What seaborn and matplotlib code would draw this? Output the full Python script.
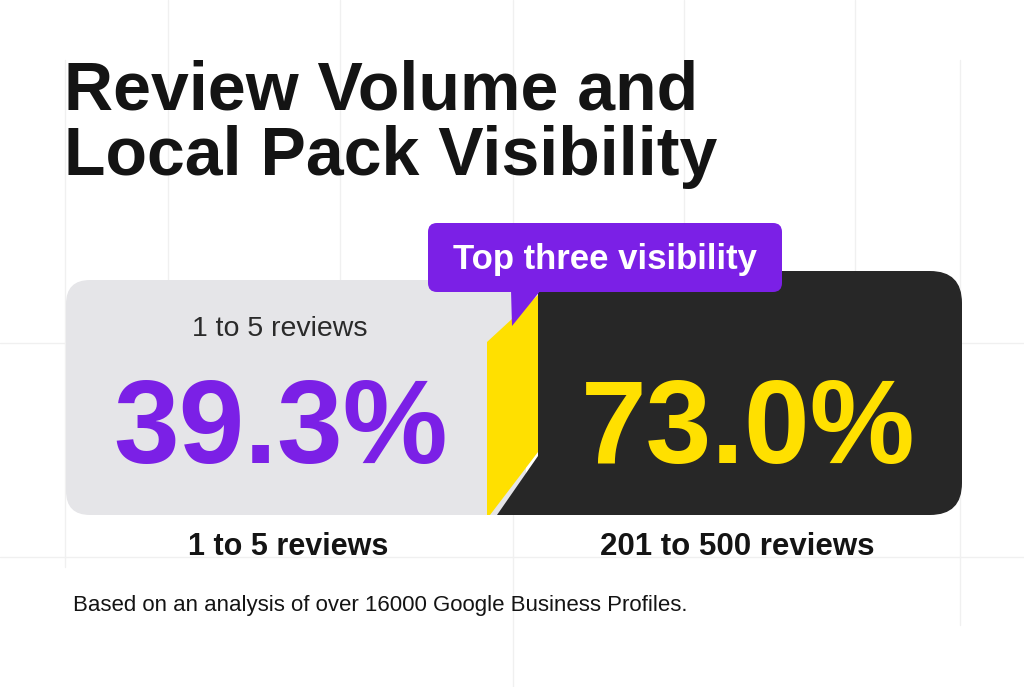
import numpy as np
import matplotlib
matplotlib.use('Agg')
import matplotlib.pyplot as plt
import seaborn as sns
from matplotlib.patches import FancyBboxPatch, Polygon

# data
title_lines = ["Review Volume and", "Local Pack Visibility"]
categories = ["1 to 5 reviews", "201 to 500 reviews"]
visibility = [39.3, 73.0]
callout = "Top three visibility"
footnote = "Based on an analysis of over 16000 Google Business Profiles."

sns.set_theme(style="white")
plt.rcParams['font.family'] = ['Liberation Sans', 'DejaVu Sans']

PURPLE = "#7B20E6"
YELLOW = "#FFE000"
DARK = "#272727"
LIGHT = "#E5E5E8"
INK = "#141414"
GRID = "#F0F0F0"

fig = plt.figure(figsize=(10.24, 6.87), dpi=100)
ax = fig.add_axes([0, 0, 1, 1])
ax.set_xlim(0, 1024)
ax.set_ylim(687, 0)
ax.axis('off')

# faint background grid (x, y from, y to)
vlines = [(65, 60, 567), (168, 0, 280), (340, 0, 280), (513, 0, 223),
          (513, 515, 687), (684, 0, 271), (855, 0, 271), (960, 60, 625)]
for gx, y0, y1 in vlines:
    ax.plot([gx, gx], [y0, y1], color=GRID, lw=1, zorder=0)
for gy in [343, 557]:
    ax.axhline(gy, color=GRID, lw=1, zorder=0)

# title
ax.text(64, 110, title_lines[0], fontsize=49, fontweight='bold', color=INK,
        va='baseline', ha='left')
ax.text(64, 175, title_lines[1], fontsize=49, fontweight='bold', color=INK,
        va='baseline', ha='left')

# light panel (left)
ax.add_patch(FancyBboxPatch((66, 280), 460, 235,
                            boxstyle="round,pad=0,rounding_size=24",
                            fc=LIGHT, ec='none', zorder=1))
# dark panel (right)
ax.add_patch(FancyBboxPatch((538, 271), 424, 244,
                            boxstyle="round,pad=0,rounding_size=32",
                            fc=DARK, ec='none', zorder=2))
ax.add_patch(Polygon([(538, 271), (600, 271), (600, 515), (497, 515),
                      (538, 456)], closed=True, fc=DARK, ec='none', zorder=2))
# yellow divider
ax.add_patch(Polygon([(487, 515), (487, 342), (538, 295), (538, 452),
                      (490, 515)], closed=True, fc=YELLOW, ec='none', zorder=3))

# callout
ax.add_patch(FancyBboxPatch((428, 223), 354, 69,
                            boxstyle="round,pad=0,rounding_size=9",
                            fc=PURPLE, ec='none', zorder=4))
ax.add_patch(Polygon([(511, 290), (541, 290), (512, 326)], closed=True,
                     fc=PURPLE, ec='none', zorder=4))
ax.text(605, 269, callout, fontsize=25, fontweight='bold', color='white',
        ha='center', va='baseline', zorder=5)

# panel texts
ax.text(280, 336, categories[0], fontsize=20.5, color="#2A2A2A",
        ha='center', va='baseline', zorder=5)
ax.text(281, 463, f"{visibility[0]:.1f}%", fontsize=85, fontweight='bold',
        color=PURPLE, ha='center', va='baseline', zorder=5)
ax.text(748, 463, f"{visibility[1]:.1f}%", fontsize=85, fontweight='bold',
        color=YELLOW, ha='center', va='baseline', zorder=5)

# labels under panels
ax.text(288, 555, categories[0], fontsize=22, fontweight='bold', color=INK,
        ha='center', va='baseline', zorder=5)
ax.text(737, 555, categories[1], fontsize=22.5, fontweight='bold', color=INK,
        ha='center', va='baseline', zorder=5)

ax.text(73, 611, footnote, fontsize=16, color=INK, ha='left', va='baseline')

fig.savefig("out.png", dpi=100)
plt.close(fig)
